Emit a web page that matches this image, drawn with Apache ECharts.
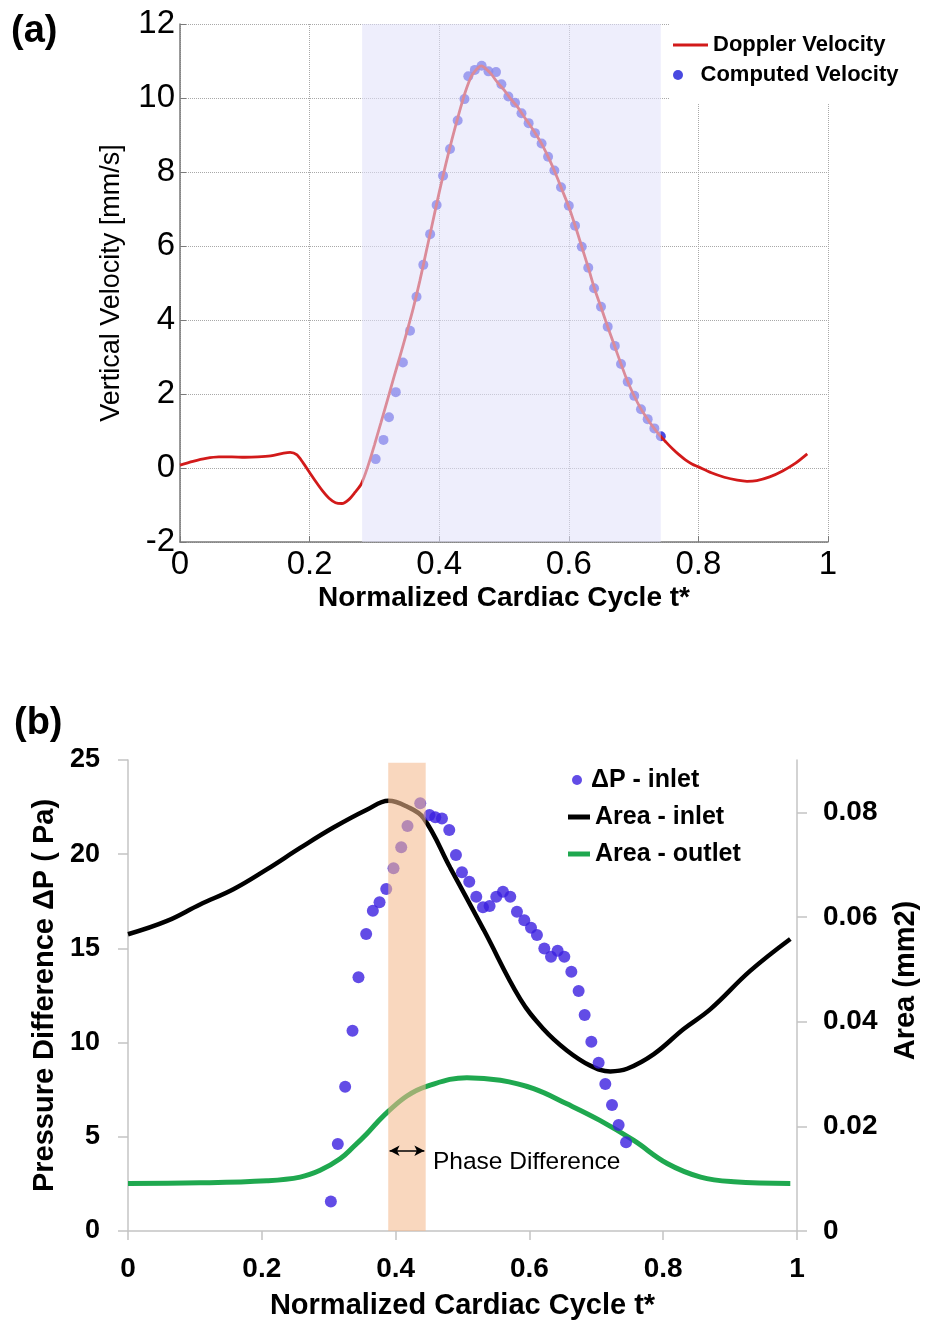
<!DOCTYPE html>
<html><head><meta charset="utf-8">
<script src="https://cdn.jsdelivr.net/npm/echarts@6/dist/echarts.min.js"></script>
<style>html,body{margin:0;padding:0;background:#fff}#c{width:937px;height:1321px}</style>
</head><body><div id="c"></div>
<script>
// ---------- Panel (a) data ----------
const velXTicks = [0, 0.2, 0.4, 0.6, 0.8, 1];
const velYTicks = [-2, 0, 2, 4, 6, 8, 10, 12];
const dopplerT = [0,0.02,0.04,0.06,0.08,0.10,0.12,0.14,0.16,0.17,0.18,0.19,0.20,0.21,0.22,0.23,0.24,0.25,0.26,0.27,0.28,0.29,0.30,0.31,0.32,0.33,0.34,0.35,0.36,0.37,0.38,0.39,0.40,0.41,0.42,0.43,0.44,0.45,0.46,0.465,0.47,0.48,0.49,0.50,0.51,0.52,0.53,0.54,0.55,0.56,0.57,0.58,0.59,0.60,0.61,0.62,0.63,0.64,0.65,0.66,0.67,0.68,0.69,0.70,0.71,0.72,0.73,0.74,0.75,0.76,0.77,0.78,0.79,0.80,0.82,0.84,0.86,0.875,0.89,0.91,0.93,0.95,0.968];
const dopplerV = [0.08,0.18,0.26,0.30,0.30,0.29,0.30,0.33,0.40,0.42,0.36,0.14,-0.12,-0.38,-0.62,-0.82,-0.94,-0.96,-0.86,-0.66,-0.42,0.05,0.62,1.22,1.83,2.45,3.05,3.67,4.32,5.05,5.85,6.65,7.45,8.20,8.90,9.55,10.15,10.60,10.82,10.87,10.82,10.65,10.42,10.22,9.98,9.78,9.52,9.27,9.00,8.70,8.34,7.94,7.50,7.06,6.54,5.98,5.42,4.83,4.33,3.82,3.33,2.84,2.37,1.98,1.64,1.36,1.11,0.89,0.70,0.52,0.36,0.22,0.11,0.03,-0.13,-0.25,-0.33,-0.36,-0.34,-0.24,-0.08,0.13,0.38];
const computedT = [0.302,0.314,0.3225,0.333,0.344,0.355,0.365,0.3755,0.386,0.396,0.406,0.4167,0.4285,0.439,0.4449,0.455,0.4655,0.476,0.4877,0.496,0.5067,0.517,0.527,0.538,0.5478,0.558,0.568,0.5777,0.588,0.600,0.6096,0.620,0.630,0.639,0.6497,0.660,0.671,0.6806,0.6909,0.701,0.7114,0.7217,0.732,0.742];
const computedV = [0.24,0.76,1.37,2.05,2.85,3.71,4.63,5.49,6.32,7.11,7.90,8.62,9.39,9.97,10.59,10.76,10.87,10.72,10.70,10.37,10.04,9.87,9.59,9.32,9.05,8.77,8.41,8.04,7.59,7.09,6.55,5.98,5.41,4.86,4.36,3.82,3.30,2.81,2.33,1.95,1.59,1.32,1.07,0.86];
const shadeA = [0.281, 0.742];

// ---------- Panel (b) data ----------
const cycXTicks = [0, 0.2, 0.4, 0.6, 0.8, 1];
const dpYTicks = [0, 5, 10, 15, 20, 25];
const areaYTicks = [0, 0.02, 0.04, 0.06, 0.08];
const dpT = [0.3032,0.3136,0.3246,0.3356,0.3445,0.356,0.366,0.376,0.386,0.3969,0.4084,0.4178,0.4368,0.4507,0.4593,0.4693,0.4802,0.4902,0.4992,0.5101,0.5206,0.5306,0.5405,0.5505,0.5605,0.5714,0.5814,0.5924,0.6024,0.6113,0.6223,0.6323,0.6422,0.6522,0.6627,0.6736,0.6826,0.6926,0.7035,0.7135,0.7235,0.7334,0.7445];
const dpV = [1.56,4.62,7.66,10.63,13.47,15.76,17.0,17.45,18.15,19.25,20.37,21.5,22.7,22.08,21.96,21.9,21.28,19.96,19.04,18.54,17.74,17.18,17.25,17.74,18.01,17.74,16.95,16.5,16.1,15.71,15.0,14.56,14.88,14.56,13.76,12.74,11.46,10.05,8.93,7.8,6.69,5.63,4.71];
const areaInT = [0,0.0575,0.1077,0.1575,0.2075,0.2573,0.3071,0.357,0.3894,0.4169,0.4418,0.4817,0.5315,0.5864,0.621,0.656,0.691,0.721,0.746,0.786,0.8306,0.8706,0.93,0.99];
const areaInV = [0.0567,0.0592,0.0624,0.0653,0.0691,0.0732,0.0771,0.0805,0.0822,0.0811,0.0789,0.0694,0.0576,0.0443,0.0386,0.0345,0.0316,0.0305,0.0310,0.0338,0.0386,0.0424,0.0497,0.0558];
const areaOutT = [0,0.1077,0.2075,0.2573,0.2872,0.317,0.337,0.357,0.372,0.3894,0.4169,0.4453,0.5066,0.5565,0.6063,0.656,0.706,0.756,0.806,0.856,0.9055,0.99];
const areaOutV = [0.0091,0.0092,0.0096,0.0103,0.0116,0.0138,0.0161,0.0186,0.0207,0.0229,0.0258,0.0276,0.0293,0.0288,0.0272,0.0243,0.0211,0.0173,0.0129,0.0103,0.0094,0.0091];
const shadeB = [0.389, 0.445];
const arrowB = [0.391, 0.443, 4.26];

const zip = (a, b) => a.map((v, i) => [v, b[i]]);
const F = '"Liberation Sans", Arial, sans-serif';

const chart = echarts.init(document.getElementById('c'));
const option = {
  animation: false,
  backgroundColor: '#fff',
  textStyle: { fontFamily: F },
  grid: [
    { left: 180, top: 24, width: 648, height: 518, outerBoundsMode: 'none' },
    { left: 128, top: 760, width: 669, height: 471, outerBoundsMode: 'none' }
  ],
  xAxis: [
    { gridIndex: 0, type: 'value', min: velXTicks[0], max: velXTicks[velXTicks.length-1], interval: 0.2,
      name: 'Normalized Cardiac Cycle t*', nameLocation: 'middle', nameGap: 42,
      nameTextStyle: { fontSize: 28, fontWeight: 'bold', color: '#000', fontFamily: F },
      axisLine: { onZero: false, lineStyle: { color: '#7a7a7a', width: 1.5 } },
      axisTick: { inside: true, length: 6, lineStyle: { color: '#7a7a7a' } },
      axisLabel: { fontSize: 33, color: '#000', margin: 6, fontFamily: F },
      splitLine: { show: true, lineStyle: { type: 'dotted', color: '#a8a8a8', width: 1 } } },
    { gridIndex: 1, type: 'value', min: cycXTicks[0], max: cycXTicks[cycXTicks.length-1], interval: 0.2,
      name: 'Normalized Cardiac Cycle t*', nameLocation: 'middle', nameGap: 60,
      nameTextStyle: { fontSize: 29, fontWeight: 'bold', color: '#000', fontFamily: F },
      axisLine: { onZero: false, lineStyle: { color: '#c4c4c4', width: 1.5 } },
      axisTick: { inside: false, length: 9, lineStyle: { color: '#c4c4c4', width: 1.5 } },
      axisLabel: { fontSize: 28, fontWeight: 'bold', color: '#000', margin: 24, fontFamily: F },
      splitLine: { show: false } }
  ],
  yAxis: [
    { gridIndex: 0, type: 'value', min: velYTicks[0], max: velYTicks[velYTicks.length-1], interval: 2,
      name: 'Vertical Velocity [mm/s]', nameLocation: 'middle', nameGap: 55,
      nameTextStyle: { fontSize: 27, color: '#000', fontFamily: F },
      axisLine: { show: true, onZero: false, lineStyle: { color: '#7a7a7a', width: 1.5 } },
      axisTick: { show: true, inside: true, length: 6, lineStyle: { color: '#7a7a7a' } },
      axisLabel: { fontSize: 33, color: '#000', margin: 5, fontFamily: F },
      splitLine: { show: true, lineStyle: { type: 'dotted', color: '#a8a8a8', width: 1 } } },
    { gridIndex: 1, type: 'value', min: dpYTicks[0], max: dpYTicks[dpYTicks.length-1], interval: 5,
      name: 'Pressure Difference ΔP ( Pa)', nameLocation: 'middle', nameGap: 66,
      nameTextStyle: { fontSize: 29, fontWeight: 'bold', color: '#000', fontFamily: F },
      axisLine: { show: true, onZero: false, lineStyle: { color: '#c4c4c4', width: 1.5 } },
      axisTick: { show: true, length: 10, lineStyle: { color: '#c4c4c4', width: 1.5 } },
      axisLabel: { fontSize: 27, fontWeight: 'bold', color: '#000', margin: 28, fontFamily: F },
      splitLine: { show: false } },
    { gridIndex: 1, type: 'value', position: 'right', min: 0, max: 0.09,
      name: 'Area (mm2)', nameLocation: 'middle', nameGap: 94,
      nameTextStyle: { fontSize: 29, fontWeight: 'bold', color: '#000', fontFamily: F, padding: [0, 0, 0, 30] },
      axisLine: { show: true, onZero: false, lineStyle: { color: '#c4c4c4', width: 1.5 } },
      axisTick: { show: true, length: 10, customValues: areaYTicks, lineStyle: { color: '#c4c4c4', width: 1.5 } },
      axisLabel: { fontSize: 28, fontWeight: 'bold', color: '#000', margin: 26, fontFamily: F, customValues: areaYTicks },
      splitLine: { show: false } }
  ],
  legend: [
    { data: [{ name: 'Doppler Velocity', icon: 'rect' }], left: 673, top: 32, padding: 0,
      itemWidth: 35, itemHeight: 3, selectedMode: false,
      textStyle: { fontSize: 22, fontWeight: 'bold', color: '#000', lineHeight: 26, fontFamily: F } },
    { data: [{ name: 'Computed Velocity', icon: 'circle' }], left: 673, top: 62, padding: 0,
      itemWidth: 35, itemHeight: 10, selectedMode: false,
      textStyle: { fontSize: 22, fontWeight: 'bold', color: '#000', lineHeight: 26, fontFamily: F } },
    { data: [{ name: 'ΔP - inlet', icon: 'circle' }], left: 572, top: 766, padding: 0,
      itemWidth: 18, itemHeight: 10, selectedMode: false,
      textStyle: { fontSize: 25, fontWeight: 'bold', color: '#000', lineHeight: 28, fontFamily: F } },
    { data: [{ name: 'Area - inlet', icon: 'rect' }, { name: 'Area - outlet', icon: 'rect' }],
      left: 568, top: 803, padding: 0, orient: 'vertical', itemGap: 9,
      itemWidth: 22, itemHeight: 5, selectedMode: false,
      textStyle: { fontSize: 25, fontWeight: 'bold', color: '#000', lineHeight: 28, fontFamily: F } }
  ],
  graphic: [
    { type: 'rect', shape: { x: 670, y: 12, width: 267, height: 92 }, style: { fill: '#fff' }, z: 3 },
    { type: 'text', left: 11, top: 13, style: { text: '(a)', fontSize: 38, fontWeight: 'bold', fontFamily: F, fill: '#000' } },
    { type: 'text', left: 14, top: 705, style: { text: '(b)', fontSize: 38, fontWeight: 'bold', fontFamily: F, fill: '#000' } },
    { type: 'text', left: 433, top: 1150, style: { text: 'Phase Difference', fontSize: 24.5, fontFamily: F, fill: '#000' } }
  ],
  series: [
    { name: 'Computed Velocity', type: 'scatter', xAxisIndex: 0, yAxisIndex: 0, z: 2,
      symbol: 'circle', symbolSize: 10, itemStyle: { color: '#1c1cd8' },
      data: zip(computedT, computedV) },
    { name: 'Doppler Velocity', type: 'line', xAxisIndex: 0, yAxisIndex: 0, z: 3,
      showSymbol: false, symbol: 'none', smooth: 0.3,
      lineStyle: { color: '#d21a1a', width: 2.8 }, itemStyle: { color: '#d21a1a' },
      data: zip(dopplerT, dopplerV) },
    { name: 'shadeA', type: 'line', xAxisIndex: 0, yAxisIndex: 0, z: 5, data: [], silent: true,
      markArea: { z: 10, silent: true, itemStyle: { color: 'rgba(225,225,250,0.57)' },
        data: [[{ xAxis: shadeA[0], yAxis: -2 }, { xAxis: shadeA[1], yAxis: 12 }]] } },
    { name: 'Area - inlet', type: 'line', xAxisIndex: 1, yAxisIndex: 2, z: 2,
      showSymbol: false, symbol: 'none', smooth: 0.4,
      lineStyle: { color: '#000', width: 4.5 }, itemStyle: { color: '#000' },
      data: zip(areaInT, areaInV) },
    { name: 'Area - outlet', type: 'line', xAxisIndex: 1, yAxisIndex: 2, z: 2,
      showSymbol: false, symbol: 'none', smooth: 0.4,
      lineStyle: { color: '#1fa84f', width: 5 }, itemStyle: { color: '#1fa84f' },
      data: zip(areaOutT, areaOutV) },
    { name: 'ΔP - inlet', type: 'scatter', xAxisIndex: 1, yAxisIndex: 1, z: 3,
      symbol: 'circle', symbolSize: 12, itemStyle: { color: '#3b1fe0' },
      data: zip(dpT, dpV) },
    { name: 'shadeB', type: 'line', xAxisIndex: 1, yAxisIndex: 1, z: 5, data: [], silent: true,
      markArea: { z: 10, silent: true, itemStyle: { color: 'rgba(245,184,140,0.57)' },
        data: [[{ xAxis: shadeB[0], yAxis: 0 }, { xAxis: shadeB[1], yAxis: 24.85 }]] } },
    { name: 'arrowB', type: 'line', xAxisIndex: 1, yAxisIndex: 1, z: 6, data: [], silent: true,
      markLine: { z: 12, silent: true, symbol: ['arrow', 'arrow'], symbolSize: [8, 10],
        label: { show: false }, lineStyle: { color: '#000', width: 1.5, type: 'solid' },
        data: [[{ coord: [arrowB[0], arrowB[2]] }, { coord: [arrowB[1], arrowB[2]] }]] } }
  ]
};
chart.setOption(option);
</script>
</body></html>
